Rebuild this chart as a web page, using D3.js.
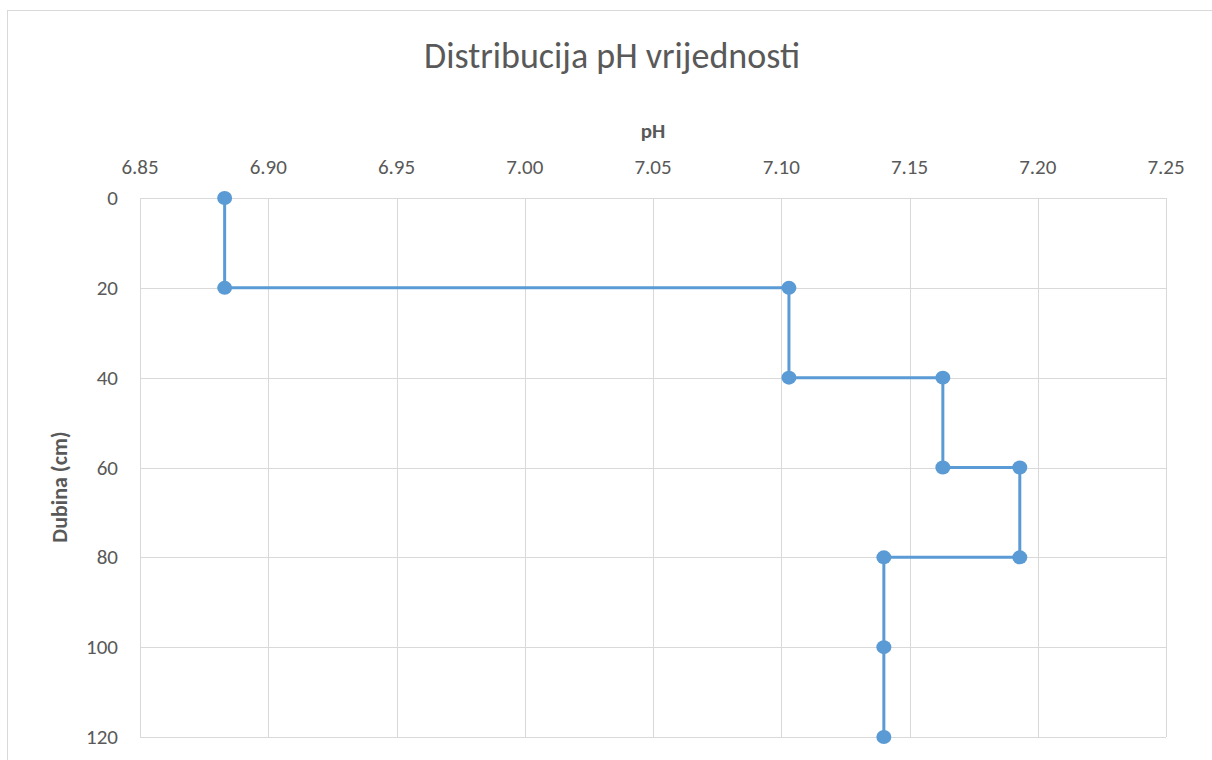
<!DOCTYPE html>
<html lang="hr">
  <head>
    <meta charset="UTF-8" />
    <title>Distribucija pH vrijednosti</title>
    <script src="https://d3js.org/d3.v7.min.js"></script>
    <style>
      body {
        margin: 0;
        background: #fff;
      }
      svg text {
        font-family: Calibri, Carlito, Lato, sans-serif;
        fill: #595959;
      }
      .grid line {
        stroke: #d9d9d9;
        stroke-width: 1px;
      }
    </style>
  </head>
  <body>
    <div id="chart"></div>
    <script>
      // podaci: pH po dubini (stepenasti profil)
      const phValues = [6.883, 6.883, 7.103, 7.103, 7.163, 7.163, 7.193, 7.193, 7.14, 7.14, 7.14];
      const depths = [0, 20, 20, 40, 40, 60, 60, 80, 80, 100, 120];
      const xTicks = [6.85, 6.9, 6.95, 7.0, 7.05, 7.1, 7.15, 7.2, 7.25];
      const yTicks = [0, 20, 40, 60, 80, 100, 120];

      const width = 1212,
        height = 760;
      const svg = d3
        .select("#chart")
        .append("svg")
        .attr("width", width)
        .attr("height", height);

      // okvir grafikona
      svg
        .append("rect")
        .attr("x", 7.5)
        .attr("y", 10.5)
        .attr("width", 1210)
        .attr("height", 800)
        .attr("fill", "none")
        .attr("stroke", "#d9d9d9");

      const x = d3.scaleLinear().domain([6.85, 7.25]).range([140, 1166]);
      const y = d3.scaleLinear().domain([0, 120]).range([198, 737]);

      // mreza
      const grid = svg.append("g").attr("class", "grid");
      grid
        .selectAll(".vx")
        .data(xTicks)
        .enter()
        .append("line")
        .attr("x1", (d) => Math.round(x(d)) + 0.5)
        .attr("x2", (d) => Math.round(x(d)) + 0.5)
        .attr("y1", y(0))
        .attr("y2", y(120));
      grid
        .selectAll(".hy")
        .data(yTicks)
        .enter()
        .append("line")
        .attr("y1", (d) => Math.round(y(d)) + 0.5)
        .attr("y2", (d) => Math.round(y(d)) + 0.5)
        .attr("x1", x(6.85))
        .attr("x2", x(7.25));

      // oznake osi
      svg
        .append("g")
        .selectAll("text")
        .data(xTicks)
        .enter()
        .append("text")
        .attr("x", (d) => x(d))
        .attr("y", 174)
        .attr("text-anchor", "middle")
        .style("font-size", "21px")
        .text((d) => d3.format(".2f")(d));

      svg
        .append("g")
        .selectAll("text")
        .data(yTicks)
        .enter()
        .append("text")
        .attr("x", 118)
        .attr("y", (d) => y(d) + 7)
        .attr("text-anchor", "end")
        .style("font-size", "21px")
        .text((d) => d);

      // naslovi
      svg
        .append("text")
        .attr("x", 612)
        .attr("y", 68)
        .attr("text-anchor", "middle")
        .style("font-size", "36px")
        .style("font-weight", "300")
        .text("Distribucija pH vrijednosti");

      svg
        .append("text")
        .attr("x", 653)
        .attr("y", 138)
        .attr("text-anchor", "middle")
        .style("font-size", "21px")
        .style("font-weight", "bold")
        .text("pH");

      svg
        .append("text")
        .attr("transform", "translate(67,487) rotate(-90)")
        .attr("text-anchor", "middle")
        .style("font-size", "22px")
        .style("font-weight", "bold")
        .text("Dubina (cm)");

      // linija i tocke
      const points = phValues.map((v, i) => [v, depths[i]]);
      const line = d3
        .line()
        .x((d) => x(d[0]))
        .y((d) => y(d[1]));

      svg
        .append("path")
        .datum(points)
        .attr("d", line)
        .attr("fill", "none")
        .attr("stroke", "#5b9bd5")
        .attr("stroke-width", 3);

      svg
        .append("g")
        .selectAll("ellipse")
        .data(points)
        .enter()
        .append("ellipse")
        .attr("cx", (d) => x(d[0]))
        .attr("cy", (d) => y(d[1]))
        .attr("rx", 7.5)
        .attr("ry", 7)
        .attr("fill", "#5b9bd5");
    </script>
  </body>
</html>
